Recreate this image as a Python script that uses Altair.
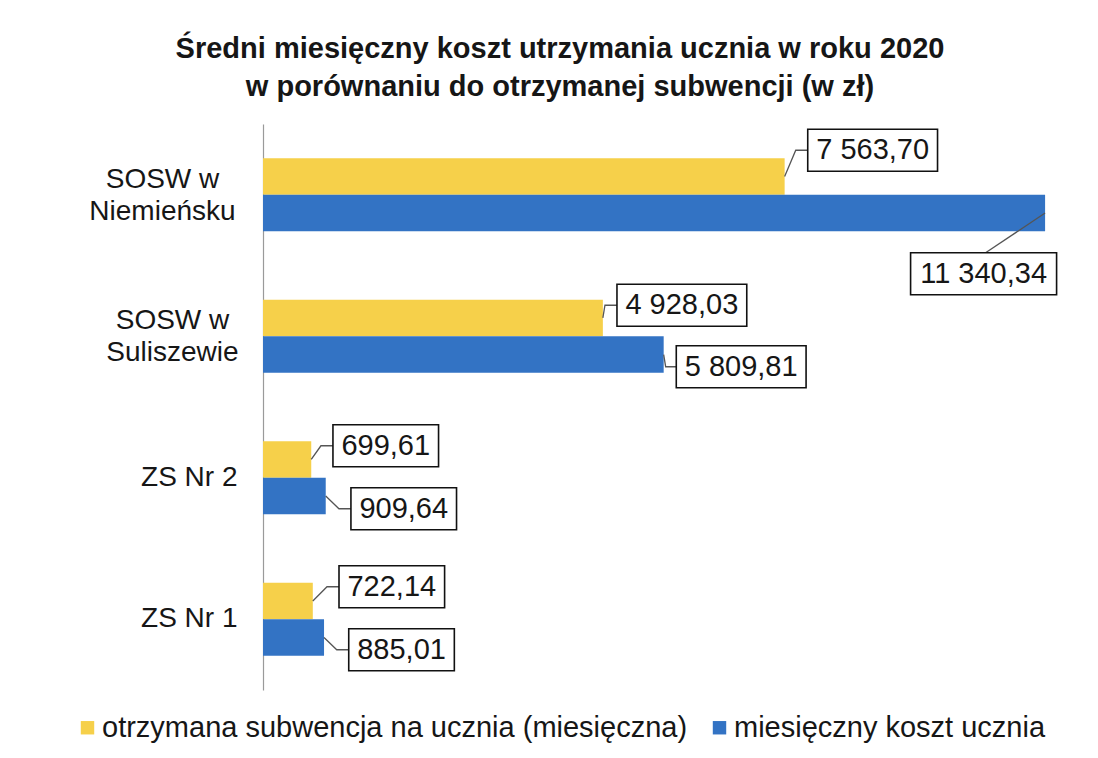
import altair as alt
import pandas as pd

# ---------------- data ----------------
CATEGORIES = ["SOSW w Niemieńsku", "SOSW w Suliszewie", "ZS Nr 2", "ZS Nr 1"]
SERIES = ["otrzymana subwencja na ucznia (miesięczna)", "miesięczny koszt ucznia"]
SUBWENCJA = [7563.70, 4928.03, 699.61, 722.14]
KOSZT = [11340.34, 5809.81, 909.64, 885.01]
TITLE_LINES = ["Średni miesięczny koszt utrzymania ucznia w roku 2020",
               "w porównaniu do otrzymanej subwencji (w zł)"]

# ---------------- style / layout ----------------
COLORS = ["#F6D04A", "#3373C4"]
FONT = "Liberation Sans"
TEXT_COLOR = "#161616"
PLOT_W, PLOT_H = 800, 566
X_MAX = 11600
PAD_INNER, PAD_OUTER = 0.484, 0.242
VALUE_FONT = 29
BOX_H = 42
BOX_PAD = 8.5

# label box centre: offset (px) from the bar end (dx) and from the category centre (dy)
LABEL_OFFSETS = {
    (0, 0): (88, -44.5), (0, 1): (-61.5, 79),
    (1, 0): (79, -31), (1, 1): (77.5, 30.5),
    (2, 0): (74.5, -32), (2, 1): (78, 31),
    (3, 0): (79, -32.5), (3, 1): (77.5, 30.5),
}

step = PLOT_H / len(CATEGORIES)
bandwidth = step * (1 - PAD_INNER)


def fmt_pl(v):
    return f"{v:,.2f}".replace(",", " ").replace(".", ",")


def text_width(s, size):
    return sum((0.556 if ch.isdigit() else 0.278) for ch in s) * size


rows = []
for i, cat in enumerate(CATEGORIES):
    for s, vals in enumerate([SUBWENCJA, KOSZT]):
        v = vals[i]
        lab = fmt_pl(v)
        dx, dy = LABEL_OFFSETS[(i, s)]
        w = text_width(lab, VALUE_FONT) + 2 * BOX_PAD
        bar_y = (-1 if s == 0 else 1) * bandwidth / 4
        hw, hh = w / 2, BOX_H / 2
        box = f"M{dx-hw:.1f},{dy-hh:.1f}H{dx+hw:.1f}V{dy+hh:.1f}H{dx-hw:.1f}Z"
        left = dx - hw
        if left > 0:
            elbow = max(left - 12, 2)
            leader = f"M0,{bar_y:.1f}L{elbow:.1f},{dy:.1f}L{left:.1f},{dy:.1f}"
        else:
            leader = f"M0,{bar_y:.1f}L{dx+2:.1f},{dy-hh:.1f}"
        rows.append(dict(category=cat, series=SERIES[s], value=v, label=lab,
                         dx=dx, dy=dy, box=box, leader=leader))
df = pd.DataFrame(rows)

label_expr = (
    "datum.label == 'SOSW w Niemieńsku' ? ['SOSW w', 'Niemieńsku'] : "
    "datum.label == 'SOSW w Suliszewie' ? ['SOSW w', 'Suliszewie'] : datum.label"
)
t_niem = "datum.label == 'SOSW w Niemieńsku'"
t_sul = "datum.label == 'SOSW w Suliszewie'"
two_line_test = f"{t_niem} || {t_sul}"

x_enc = alt.X("value:Q", scale=alt.Scale(domain=[0, X_MAX], nice=False, zero=True), axis=None)
y_enc = alt.Y(
    "category:N", sort=CATEGORIES, title=None,
    scale=alt.Scale(paddingInner=PAD_INNER, paddingOuter=PAD_OUTER),
    axis=alt.Axis(labelExpr=label_expr, labelFontSize=28, labelFont=FONT, labelColor=TEXT_COLOR,
                  ticks=False, domainColor="#9a9a9a", domainWidth=1.2,
                  labelLineHeight=32, labelBaseline="middle", grid=False, labelLimit=400,
                  labelAlign={"condition": {"test": two_line_test, "value": "center"},
                              "value": "right"},
                  labelPadding={"condition": [{"test": t_niem, "value": 101},
                                              {"test": t_sul, "value": 91}],
                                "value": 26},
                  labelOffset={"condition": {"test": two_line_test, "value": -15}, "value": 0}),
)

base = alt.Chart(df)

bars = base.mark_bar().encode(
    x=x_enc,
    y=y_enc,
    yOffset=alt.YOffset("series:N", sort=SERIES, scale=alt.Scale(paddingInner=0, paddingOuter=0)),
    color=alt.Color(
        "series:N", sort=SERIES,
        scale=alt.Scale(domain=SERIES, range=COLORS),
        legend=alt.Legend(orient="none", legendX=-190, legendY=589, direction="horizontal",
                          title=None, symbolType="square", symbolSize=180, symbolStrokeWidth=0,
                          labelFontSize=29, labelFont=FONT, labelColor=TEXT_COLOR,
                          labelOffset=0, columnPadding=17, labelLimit=1000, padding=0),
    ),
)

leaders = base.mark_point(filled=False, stroke="#555555", strokeWidth=1.3, opacity=1, size=4).encode(
    x=x_enc, y=y_enc, shape=alt.Shape("leader:N", scale=None)
)

boxes = base.mark_point(filled=True, fill="white", stroke="#111111", strokeWidth=1.6,
                        opacity=1, size=4).encode(
    x=x_enc, y=y_enc, shape=alt.Shape("box:N", scale=None)
)

texts = base.mark_text(fontSize=VALUE_FONT, font=FONT, color=TEXT_COLOR,
                       align="center", baseline="middle",
                       dx={"expr": "datum.dx"}, dy={"expr": "datum.dy"}).encode(
    x=x_enc, y=y_enc,
    text="label:N",
)

chart = (
    alt.layer(bars, leaders, boxes, texts)
    .resolve_scale(yOffset="independent", shape="independent")
    .properties(
        width=PLOT_W, height=PLOT_H,
        autosize=alt.AutoSizeParams(type="none"),
        padding={"left": 255, "top": 116, "right": 24, "bottom": 56},
        background="white",
        title=alt.TitleParams(TITLE_LINES, fontSize=29, fontWeight="bold", font=FONT,
                              color=TEXT_COLOR, anchor="middle", frame="group",
                              lineHeight=38, dx=-103, offset=22.5),
    )
    .configure_view(stroke=None)
)

chart.save("out.html", embed_options={"renderer": "svg", "actions": False})
